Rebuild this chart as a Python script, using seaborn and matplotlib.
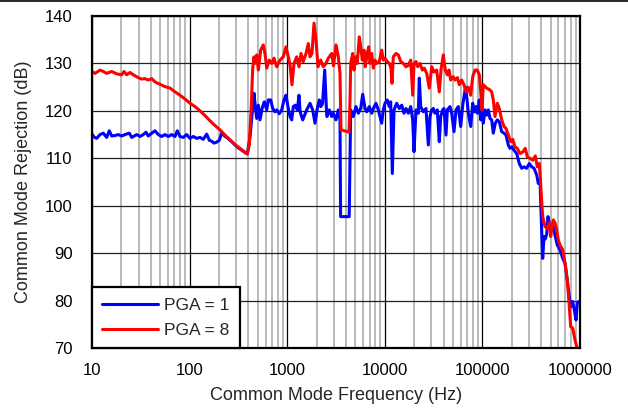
import matplotlib
matplotlib.use("Agg")
import matplotlib.pyplot as plt
from matplotlib.lines import Line2D
from matplotlib.ticker import LogLocator, FixedLocator, FixedFormatter, NullFormatter
import numpy as np
import pandas as pd
import seaborn as sns

# PGA = 1 trace
freq_pga1 = [
    10, 10.48, 11.17, 12.08, 13.06, 14.14, 15.04, 15.92, 17.21, 18.60,
    20.15, 21.78, 24.11, 25.51, 28.71, 31.03, 33.55, 35.75, 37.7, 40.9,
    44.2, 47.77, 51.78, 56.0, 60.5, 65.5, 70.9, 74.8, 79.7, 86.2,
    93.4, 101, 109.1, 118.2, 127.8, 138.2, 149.7, 159.2, 168.4, 177.8,
    189.5, 201.5, 213.3, 221.4, 230.5, 240, 255.2, 270.1, 291.9, 315.5,
    341.9, 369.6, 390, 415.9, 443, 457,
    468, 487, 506, 526.4, 555.7, 582.6, 617, 640.4, 677.7, 710.3,
    749.9, 781, 829.9, 878.3, 927.3, 972, 1026, 1069, 1112, 1155,
    1211, 1269, 1321, 1352, 1375, 1441, 1462, 1584, 1713, 1825,
    1927, 2034, 2133, 2204, 2300, 2423, 2527, 2557, 2701, 2857,
    2968, 3162, 3339, 3475, 3525, 4317, 4473, 4756, 5069, 5352,
    5664, 5939, 6270, 6527, 6937, 7341, 7625, 8125, 8579, 9294,
    9652, 10046, 10607, 11120, 11494, 11938, 12425, 13243, 14084, 14905,
    15733, 16490, 17410, 18430, 19316, 19918, 20880, 22040, 22570, 23330,
    24800, 26430, 27910, 29050, 30230, 31410, 32690, 34510, 36170, 37380,
    39190, 40420, 42380, 43700, 46560, 48480, 51170, 53630, 56640, 59950,
    62840, 67110, 70020, 71720, 75880, 79540, 82610, 85980, 88650, 92930,
    96080, 99060, 102100, 106300, 110700, 115000, 119650, 124500, 129300, 135600,
    142100, 149000, 157700, 166500, 174500, 184300, 191800, 201100, 210800, 224600,
    238800, 252800, 266900, 284400, 302300, 320000, 337900, 360100, 373900, 389300,
    401400, 414800, 427700, 441100, 456000, 470100, 484600, 508200, 532700, 558500,
    585300, 624000, 665000, 702000, 741000, 777000, 803000, 842000, 874300, 910000,
    938300, 969800,
]
cmr_pga1 = [
    115.1, 114.5, 114.2, 115.0, 115.3, 114.4, 115.8, 114.7, 114.8, 115.0,
    114.7, 115.0, 115.3, 114.4, 115.0, 114.6, 115.0, 115.5, 114.7, 115.3,
    115.8, 115.0, 114.6, 115.0, 114.6, 115.0, 114.6, 115.8, 114.6, 114.4,
    115.0, 114.2, 114.6, 114.2, 114.4, 114.0, 115.1, 113.8, 113.6, 113.2,
    113.4, 113.8, 115.3, 115.0, 114.6, 114.4, 113.9, 113.5, 112.8, 112.2,
    111.7, 111.2, 110.9, 114.5, 120.5, 123.7,
    121.5, 118.4, 121.2, 118.1, 120.7, 121.9, 120.2, 122.3, 122.3, 120.5,
    119.8, 120.2, 119.4, 120.2, 122.3, 123.3, 120.5, 118.8, 118.1, 120.9,
    121.2, 120.2, 123.3, 120.2, 119.4, 118.1, 118.4, 120.2, 121.6, 120.2,
    117.4, 120.5, 122.3, 120.9, 121.5, 128.6, 120.0, 118.8, 120.2, 118.8,
    119.5, 118.1, 120.2, 118.1, 97.7, 97.7, 120.2, 118.8, 120.9, 119.5,
    120.5, 123.5, 120.5, 119.8, 120.9, 119.5, 120.5, 121.6, 120.2, 117.4,
    120.2, 121.6, 122.3, 120.9, 121.9, 106.8, 120.2, 121.6, 120.5, 121.2,
    119.5, 120.5, 119.5, 120.9, 118.1, 111.4, 120.2, 119.5, 126.9, 120.9,
    119.8, 120.5, 112.8, 118.8, 120.2, 120.5, 119.5, 120.2, 113.5, 118.8,
    120.2, 120.5, 114.9, 120.2, 120.9, 119.5, 115.6, 120.2, 120.9, 116.7,
    121.2, 125.0, 121.9, 119.5, 116.7, 121.6, 119.8, 120.9, 119.5, 122.3,
    118.1, 122.3, 117.4, 120.2, 119.1, 120.2, 118.4, 118.1, 115.3, 117.4,
    118.1, 117.7, 115.6, 115.3, 114.9, 112.8, 112.1, 112.4, 111.7, 111.0,
    108.9, 107.9, 108.2, 107.9, 108.9, 108.2, 107.9, 106.5, 104.7, 105.5,
    97.0, 88.9, 93.5, 93.0, 94.0, 97.7, 96.4, 95.6, 95.6, 93.5,
    91.7, 90.7, 88.9, 87.9, 84.3, 80.8, 78.7, 79.8, 78.0, 75.9,
    79.4, 79.8,
]

# PGA = 8 trace
freq_pga8 = [
    10, 10.73, 12.08, 13.06, 14.14, 15.92, 17.91, 20.15, 21.28, 22.68,
    24.51, 26.5, 29.8, 32.3, 34.9, 37.7, 40.9, 44.2, 49.8, 56.0,
    63.0, 70.9, 79.7, 89.7, 101, 113.6, 127.8, 143.8, 161.8, 182,
    204.8, 230.5, 259.4, 291.9, 328.5, 369.6, 390, 409, 429, 443,
    457, 468, 487, 506, 535, 569, 592, 617, 655, 694,
    732, 781, 844, 912, 972, 1026, 1069, 1120, 1174, 1251,
    1321, 1385, 1462, 1558, 1645, 1713, 1795, 1882, 1973, 2068,
    2204, 2344, 2498, 2637, 2857, 2982, 3162, 3339, 3475, 3558,
    4297, 4400, 4473, 4690, 4835, 5069, 5226, 5480, 5664, 5883,
    6122, 6313, 6617, 6839, 7053, 7341, 7625, 7937, 8260, 8782,
    9294, 9652, 10046, 10607, 11120, 11574, 11853, 12220, 13025, 13750,
    14551, 15467, 16490, 17410, 18430, 19316, 19918, 20880, 21730, 22950,
    24230, 25390, 26880, 28570, 30230, 31920, 34020, 36170, 37650, 39760,
    41680, 43700, 45480, 47330, 50310, 52400, 55590, 58000, 61380, 64800,
    67920, 71720, 75880, 79540, 84010, 88650, 92930, 96080, 99060, 102100,
    110700, 119650, 124500, 129300, 134600, 142100, 149000, 157700, 166500, 174500,
    184300, 195000, 204400, 215800, 227800, 242800, 258800, 275100, 288400, 307300,
    327600, 348300, 365100, 382800, 392000, 398500, 414800, 437900, 462300, 484600,
    501000, 516600, 532700, 554300, 577000, 599200, 624000, 665000, 702000, 741000,
    777000, 803000, 842000, 889000, 925000, 954000,
]
cmr_pga8 = [
    128.3, 127.9, 128.6, 128.3, 127.9, 128.3, 127.8, 127.6, 128.3, 127.6,
    128.1, 127.6, 127.0, 126.7, 126.8, 126.5, 126.8, 126.1, 125.6, 125.1,
    124.8, 124.0, 123.3, 122.5, 121.6, 120.9, 120.0, 119.0, 117.9, 116.9,
    116.0, 114.9, 113.9, 112.9, 112.1, 111.2, 111.0, 112.8, 121.2, 129.0,
    131.4, 130.0, 131.8, 128.6, 132.8, 133.9, 132.1, 129.0, 130.7, 130.0,
    131.1, 129.3, 130.7, 131.4, 133.5, 131.4, 129.7, 125.5, 130.0, 131.4,
    129.3, 132.1, 130.4, 132.1, 134.2, 131.4, 132.1, 138.5, 134.9, 129.3,
    130.7, 129.3, 130.0, 131.1, 132.1, 129.5, 133.9, 131.4, 127.9, 116.0,
    115.5, 122.0, 130.0, 132.1, 128.6, 131.4, 130.0, 135.6, 133.5, 130.7,
    132.8, 129.3, 132.1, 133.5, 130.0, 132.1, 129.0, 130.7, 130.0, 130.4,
    132.8, 130.7, 131.1, 130.4, 130.0, 129.0, 125.8, 131.4, 132.1, 131.8,
    130.4, 130.0, 129.3, 129.6, 130.7, 123.3, 130.0, 130.4, 129.3, 130.0,
    128.6, 129.0, 127.9, 124.8, 129.3, 128.2, 128.6, 124.0, 128.6, 131.8,
    128.6, 127.6, 128.6, 126.5, 127.2, 126.5, 127.0, 125.5, 126.5, 125.5,
    124.0, 125.0, 123.3, 127.2, 128.6, 128.6, 127.6, 124.2, 120.2, 125.5,
    124.8, 124.4, 124.0, 122.3, 118.8, 121.6, 120.5, 118.1, 116.7, 116.3,
    114.9, 113.5, 114.0, 112.4, 112.1, 111.0, 111.3, 112.1, 110.3, 110.0,
    109.6, 110.5, 108.2, 108.9, 106.0, 103.3, 97.7, 95.6, 95.2, 96.4,
    93.5, 95.5, 97.0, 96.4, 94.9, 92.8, 91.7, 90.7, 87.9, 84.3,
    78.7, 74.5, 74.2, 71.7, 70.3, 69.5,
]

series_labels = ["PGA = 1", "PGA = 8"]
series_colors = ["#0000ff", "#ff0000"]

y_ticks = [70, 80, 90, 100, 110, 120, 130, 140]
x_ticks = [10, 100, 1000, 10000, 100000, 1000000]
x_tick_labels = ["10", "100", "1000", "10000", "100000", "1000000"]

df = pd.concat([
    pd.DataFrame({"freq": freq_pga1, "cmr": cmr_pga1, "series": series_labels[0]}),
    pd.DataFrame({"freq": freq_pga8, "cmr": cmr_pga8, "series": series_labels[1]}),
], ignore_index=True)

sns.set_style("white")
plt.rcParams["font.family"] = ["Liberation Sans", "DejaVu Sans"]

fig = plt.figure(figsize=(6.28, 4.13), dpi=100)
ax = fig.add_axes([92 / 628, 1 - 348 / 413, 488 / 628, 332 / 413])

sns.lineplot(data=df, x="freq", y="cmr", hue="series", hue_order=series_labels,
             palette=series_colors, estimator=None, sort=False, linewidth=2.2,
             ax=ax, legend=False, zorder=3)

ax.set_xscale("log")
ax.set_xlim(10, 1e6)
ax.set_ylim(70, 140)

ax.xaxis.set_major_locator(FixedLocator(x_ticks))
ax.xaxis.set_major_formatter(FixedFormatter(x_tick_labels))
ax.xaxis.set_minor_locator(LogLocator(base=10, subs=np.arange(2, 10), numticks=20))
ax.xaxis.set_minor_formatter(NullFormatter())
ax.set_yticks(y_ticks)

ax.grid(which="minor", axis="x", color="#b4b4b4", linewidth=1.3, zorder=0)
ax.grid(which="major", axis="x", color="#000000", linewidth=0.9, zorder=1)
ax.grid(which="major", axis="y", color="#202020", linewidth=0.9, zorder=1)
ax.set_axisbelow(True)

ax.tick_params(axis="both", which="both", length=0, labelsize=12, colors="#000000")
ax.tick_params(axis="y", pad=14)
ax.tick_params(axis="x", pad=11)

for side in ["left", "right", "top", "bottom"]:
    ax.spines[side].set_visible(True)
    ax.spines[side].set_color("#000000")
    ax.spines[side].set_linewidth(1.6)
    ax.spines[side].set_zorder(5)

ax.set_xlabel("Common Mode Frequency (Hz)", fontsize=13, labelpad=6)
ax.set_ylabel("Common Mode Rejection (dB)", fontsize=13, labelpad=9)

handles = [Line2D([], [], color=c, linewidth=2.2) for c in series_colors]
leg = ax.legend(handles, series_labels, loc="lower left", borderaxespad=0,
                fontsize=12.5, frameon=True, fancybox=False, handlelength=3.2,
                handletextpad=0.35, labelspacing=0.55, borderpad=0.6)
leg.get_frame().set_edgecolor("#000000")
leg.get_frame().set_linewidth(1.6)
leg.get_frame().set_alpha(1)
leg.set_zorder(6)

fig.add_artist(Line2D([0, 1], [0.998, 0.998], color="#000000", linewidth=1.2,
                      transform=fig.transFigure))

fig.savefig("out.png", dpi=100)
